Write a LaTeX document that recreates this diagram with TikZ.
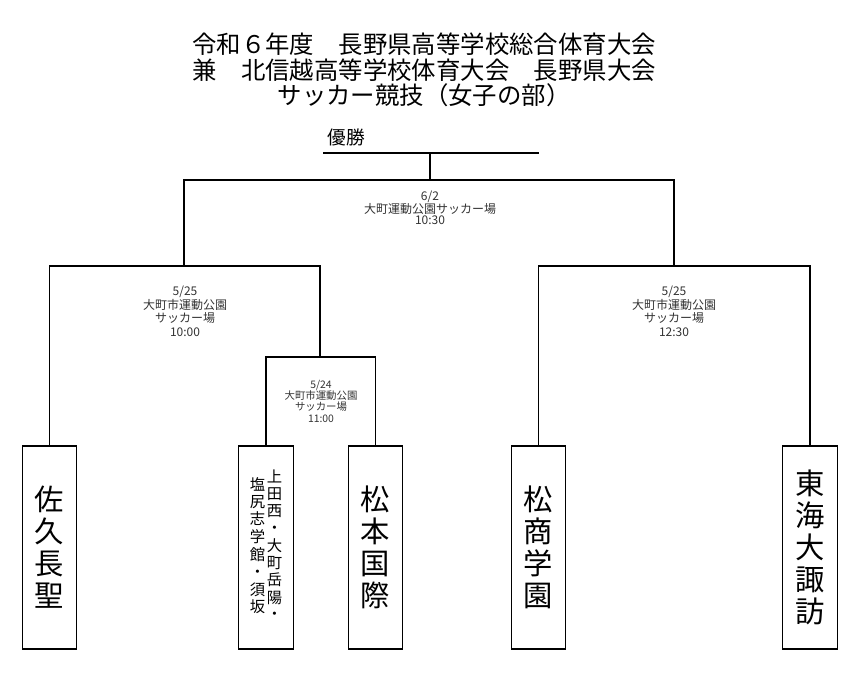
\documentclass[tikz,border=0pt]{standalone}
\usepackage{fontspec}
\setmainfont{Noto Sans CJK JP}
\usetikzlibrary{positioning}
\tikzset{
  tm/.style={rectangle, minimum width=41pt, minimum height=152.25pt, inner sep=0pt, text centered, align=center, draw=black, font=\fontsize{22}{24}\selectfont},
  tms/.style={tm, font=\fontsize{11.5}{12.5}\selectfont},
  lb/.style={align=center, inner sep=0pt, text=black!80, font=\fontsize{9}{10.1}\selectfont},
  lbf/.style={lb, font=\fontsize{9}{8.3}\selectfont},
  lbq/.style={lb, font=\fontsize{7.8}{8.5}\selectfont},
  ttl/.style={align=center, inner sep=0pt, font=\fontsize{18.3}{18.9}\selectfont}
}
\begin{document}
\begin{tikzpicture}[x=0.75pt, y=-0.75pt, line width=0.8pt]
	\useasboundingbox (0,0) rectangle (852,673);
	\node[ttl] (title) at (424,70) {令和６年度　長野県高等学校総合体育大会\\兼　北信越高等学校体育大会　長野県大会\\サッカー競技（女子の部）};
	\node[inner sep=0pt, font=\fontsize{14}{16}\selectfont] (win) at (346,137) {優勝};
	
	\coordinate (wl) at (323,153);
	\coordinate (wr) at (539,153);
	\coordinate (w) at (430,153);
	\coordinate (f) at (430,180);
	\coordinate (s1) at (184,266);
	\coordinate (s2) at (674,266);
	\coordinate (q1) at (320,357);
	
	\node[tm] (saku) at (49.5,547.5) {佐\\久\\長\\聖};
	\node[tms] (ueda) at (266,547.5) {\begin{tabular}{@{}c@{}}塩\\尻\\志\\学\\館\\・\\須\\坂\end{tabular}\hspace{1.3pt}\begin{tabular}{@{}c@{}}上\\田\\西\\・\\大\\町\\岳\\陽\\・\end{tabular}};
	\node[tm] (matsukoku) at (375.5,547.5) {松\\本\\国\\際};
	\node[tm] (matsusho) at (538.5,547.5) {松\\商\\学\\園};
	\node[tm] (tokai) at (810,547.5) {東\\海\\大\\諏\\訪};
	
	\draw (wl) -- (wr);
	\draw (w) -- (f);
	\draw (s1) |- (f) -| (s2);
	\draw (saku.north) |- (s1) -| (q1);
	\draw (ueda.north) |- (q1) -| (matsukoku.north);
	\draw (matsusho.north) |- (s2) -| (tokai.north);
	
	\node[lbf] (lf) at (430,208) {6/2\\大町運動公園サッカー場\\10:30};
	\node[lb] (ls1) at (185,311.5) {5/25\\大町市運動公園\\サッカー場\\10:00};
	\node[lb] (ls2) at (674,311.5) {5/25\\大町市運動公園\\サッカー場\\12:30};
	\node[lbq] (lq1) at (321,401) {5/24\\大町市運動公園\\サッカー場\\11:00};
\end{tikzpicture}
\end{document}
